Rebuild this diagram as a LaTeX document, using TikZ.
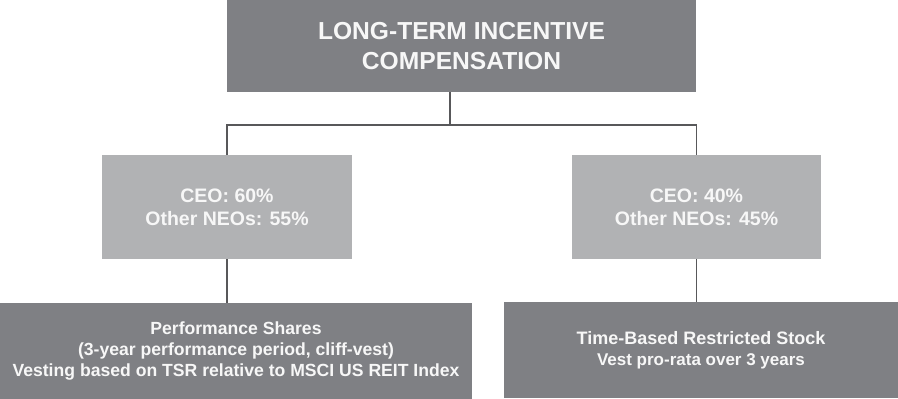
\documentclass[tikz,border=0pt]{standalone}
\usepackage{fontspec}
\setmainfont{Liberation Sans}
\definecolor{darkbox}{HTML}{7F8084}
\definecolor{lightbox}{HTML}{B1B2B4}
\definecolor{linecol}{HTML}{58585A}
\definecolor{txt}{HTML}{F7F7F7}
\begin{document}
\begin{tikzpicture}[x=1pt,y=-1pt,
  boxbase/.style={inner sep=0pt, align=center, text=txt, font=\bfseries},
  darkstyle/.style={boxbase, fill=darkbox},
  lightstyle/.style={boxbase, fill=lightbox},
  conn/.style={draw=linecol, line width=1.6pt}]
\useasboundingbox (0,0) rectangle (898,399);
\node[darkstyle, minimum width=469pt, minimum height=92pt, font=\bfseries\fontsize{24.6}{30.7}\selectfont] (top) at (461.5,46) {LONG-TERM INCENTIVE\\COMPENSATION};
\node[lightstyle, minimum width=250pt, minimum height=104pt, font=\bfseries\fontsize{19.5}{22.7}\selectfont] (lm) at (227,207) {CEO: 60\%\\Other NEOs: 55\%};
\node[lightstyle, minimum width=249pt, minimum height=104pt, font=\bfseries\fontsize{19.5}{22.7}\selectfont] (rm) at (696.5,207) {CEO: 40\%\\Other NEOs: 45\%};
\node[darkstyle, minimum width=472pt, minimum height=96pt, font=\bfseries\fontsize{17.6}{20.7}\selectfont] (bl) at (236,351) {Performance Shares\\(3-year performance period, cliff-vest)\\Vesting based on TSR relative to MSCI US REIT Index};
\node[darkstyle, minimum width=394pt, minimum height=96pt, font=\bfseries\fontsize{18}{21}\selectfont] (br) at (701,350) {Time-Based Restricted Stock\\{\fontsize{17}{21}\selectfont Vest pro-rata over 3 years}};
\coordinate (j) at (450,125);
\draw[conn] (top.south -| j) -- (j);
\draw[conn] (lm.north) |- (j) -| (rm.north);
\draw[conn] (lm.south) -- (lm.south |- bl.north);
\draw[conn] (rm.south) -- (rm.south |- br.north);
\end{tikzpicture}
\end{document}
